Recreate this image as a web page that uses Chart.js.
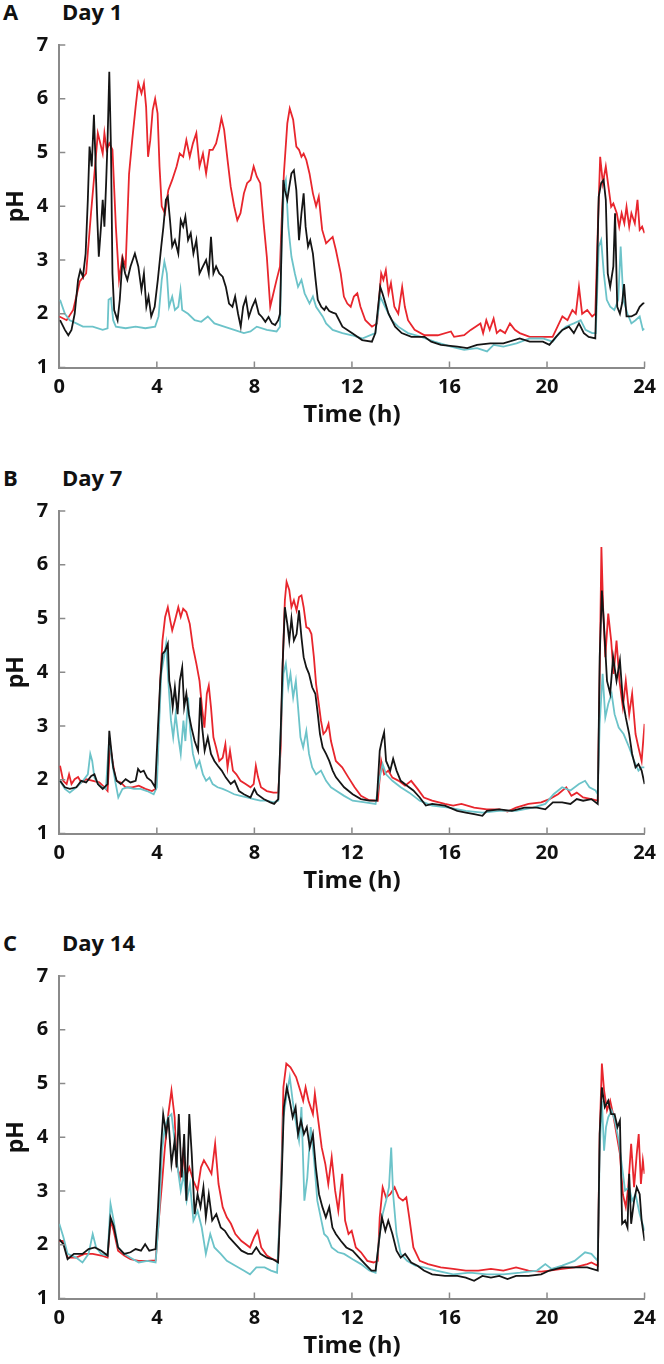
<!DOCTYPE html>
<html>
<head>
<meta charset="utf-8">
<script src="https://cdn.jsdelivr.net/npm/chart.js@4.4.1/dist/chart.umd.min.js"></script>
<style>
  body { margin: 0; background: #fff; width: 664px; height: 1364px; overflow: hidden; position: relative; font-family: 'Open Sans', sans-serif; }
  .panel { position: absolute; left: 0; width: 664px; height: 435px; }
  .panel canvas { position: absolute; left: 0; top: 0; }
  .tag { position: absolute; top: 0px; font-weight: 700; font-size: 22px; line-height: 22px; color: #111; }
</style>
</head>
<body>
<div class="panel" style="top:0px"><span class="tag" style="left:3px">A</span><span class="tag" style="left:62px">Day 1</span><canvas id="chartA" width="664" height="435"></canvas></div>
<div class="panel" style="top:466px"><span class="tag" style="left:3px">B</span><span class="tag" style="left:62px">Day 7</span><canvas id="chartB" width="664" height="435"></canvas></div>
<div class="panel" style="top:931px"><span class="tag" style="left:3px">C</span><span class="tag" style="left:62px">Day 14</span><canvas id="chartC" width="664" height="435"></canvas></div>

<script>
// ticks
const timeTicks = [0, 4, 8, 12, 16, 20, 24];
const phTicks = [1, 2, 3, 4, 5, 6, 7];

// Day 1  -- [time (h), pH]
const day1Red = [[0,1.95],[0.3,1.88],[0.57,2.07],[0.84,2.6],[1.1,2.75],[1.3,3.87],[1.44,4.6],[1.58,5.36],[1.65,5.23],[1.78,4.98],[1.85,5.36],[1.94,5.05],[2.05,5.17],[2.18,5.05],[2.32,3.62],[2.45,2.63],[2.59,3.06],[2.72,2.88],[2.86,4.6],[2.99,5.23],[3.13,5.85],[3.24,6.29],[3.37,6.1],[3.47,6.29],[3.56,5.85],[3.64,4.92],[3.73,5.23],[3.83,5.79],[3.93,6.0],[4.03,5.73],[4.11,4.74],[4.2,4.0],[4.33,3.87],[4.47,4.3],[4.63,4.49],[4.81,4.74],[4.94,4.98],[5.08,4.92],[5.21,5.23],[5.35,4.92],[5.48,5.17],[5.62,5.36],[5.75,4.74],[5.89,4.98],[6.02,4.61],[6.16,5.05],[6.29,5.05],[6.43,5.17],[6.56,5.42],[6.65,5.64],[6.76,5.42],[6.9,4.86],[7.03,4.36],[7.17,4.0],[7.3,3.74],[7.43,3.87],[7.57,4.24],[7.7,4.43],[7.84,4.49],[7.97,4.74],[8.1,4.55],[8.24,4.43],[8.38,3.68],[8.51,3.06],[8.65,2.13],[8.78,2.38],[8.91,2.63],[9.05,2.88],[9.12,3.74],[9.21,4.61],[9.35,5.54],[9.45,5.82],[9.59,5.61],[9.72,5.11],[9.83,5.05],[9.93,4.92],[10.02,4.98],[10.13,4.86],[10.26,4.61],[10.4,4.24],[10.53,4.0],[10.64,4.18],[10.78,3.56],[10.94,3.31],[11.07,3.37],[11.21,3.43],[11.34,3.19],[11.54,2.75],[11.67,2.32],[11.81,2.19],[11.95,2.13],[12.08,2.32],[12.22,2.38],[12.35,2.13],[12.55,1.88],[12.82,1.76],[13.03,1.82],[13.2,2.75],[13.29,2.63],[13.39,2.81],[13.5,2.38],[13.6,2.57],[13.74,2.13],[13.9,2.0],[14.06,2.5],[14.17,2.13],[14.3,1.88],[14.57,1.7],[14.98,1.6],[15.52,1.6],[16.06,1.67],[16.19,1.57],[16.6,1.6],[16.87,1.7],[17.07,1.76],[17.27,1.82],[17.38,1.64],[17.51,1.88],[17.65,1.7],[17.81,1.91],[17.94,1.64],[18.08,1.7],[18.28,1.64],[18.48,1.82],[18.68,1.7],[18.88,1.64],[19.29,1.57],[19.83,1.57],[20.23,1.57],[20.43,1.76],[20.63,1.95],[20.84,1.88],[21.04,2.07],[21.18,2.0],[21.31,2.5],[21.44,2.0],[21.65,2.07],[21.85,1.95],[21.98,2.0],[22.09,3.68],[22.18,4.92],[22.29,4.43],[22.41,4.74],[22.52,4.36],[22.63,3.99],[22.72,4.05],[22.86,3.87],[22.96,3.62],[23.06,3.87],[23.17,3.68],[23.26,3.99],[23.37,3.62],[23.46,3.87],[23.6,3.68],[23.71,4.12],[23.8,3.56],[23.9,3.62],[24,3.5]];
const day1Black = [[0.03,1.88],[0.23,1.7],[0.37,1.6],[0.5,1.7],[0.63,2.0],[0.77,2.63],[0.86,2.81],[0.97,2.69],[1.08,3.12],[1.17,4.12],[1.24,5.11],[1.33,4.74],[1.42,5.7],[1.48,4.92],[1.55,3.87],[1.62,3.06],[1.71,3.62],[1.78,4.12],[1.85,3.62],[1.92,4.43],[1.98,5.23],[2.05,6.5],[2.12,5.05],[2.18,2.75],[2.25,2.07],[2.39,1.88],[2.48,2.26],[2.59,3.0],[2.7,2.75],[2.79,2.63],[2.92,2.88],[3.1,3.12],[3.24,2.88],[3.37,2.44],[3.47,2.75],[3.57,2.13],[3.66,2.32],[3.77,1.95],[3.91,2.13],[4.04,2.63],[4.18,3.25],[4.27,3.62],[4.37,4.12],[4.45,4.18],[4.54,3.74],[4.63,3.25],[4.74,3.37],[4.88,3.12],[4.98,3.74],[5.08,3.62],[5.17,3.81],[5.28,3.37],[5.39,3.5],[5.5,3.12],[5.62,3.37],[5.75,2.75],[5.89,2.88],[6.02,3.0],[6.13,2.75],[6.22,3.43],[6.32,2.75],[6.43,2.88],[6.56,2.75],[6.7,2.69],[6.83,2.5],[6.96,2.19],[7.1,2.13],[7.21,2.32],[7.33,2.0],[7.44,1.76],[7.54,2.13],[7.65,2.29],[7.77,1.94],[7.91,2.13],[8.04,2.26],[8.18,2.0],[8.31,1.94],[8.45,1.85],[8.58,1.94],[8.72,1.82],[8.85,1.79],[8.98,1.88],[9.05,2.0],[9.12,3.37],[9.19,4.49],[9.25,4.3],[9.35,4.12],[9.43,4.36],[9.52,4.61],[9.62,4.67],[9.72,4.3],[9.83,3.37],[9.93,3.87],[10.02,4.24],[10.1,3.62],[10.2,3.25],[10.29,3.37],[10.4,3.12],[10.51,2.63],[10.6,2.26],[10.74,2.13],[10.87,2.07],[10.94,2.13],[11.07,2.05],[11.21,2.02],[11.34,2.0],[11.61,1.76],[12.0,1.64],[12.42,1.51],[12.82,1.48],[12.96,1.64],[13.16,2.5],[13.25,2.38],[13.5,2.0],[13.77,1.76],[14.04,1.64],[14.44,1.57],[14.98,1.57],[15.25,1.48],[15.65,1.42],[16.32,1.39],[16.73,1.36],[17.13,1.42],[17.67,1.45],[18.21,1.45],[18.88,1.54],[19.29,1.48],[19.83,1.48],[20.1,1.42],[20.37,1.57],[20.63,1.7],[20.9,1.76],[21.1,1.64],[21.31,1.82],[21.51,1.64],[21.71,1.57],[21.98,1.54],[22.05,2.75],[22.12,4.18],[22.22,4.43],[22.32,4.49],[22.41,4.12],[22.49,2.75],[22.59,2.5],[22.72,2.88],[22.79,3.87],[22.88,2.13],[22.99,2.0],[23.08,2.2],[23.16,2.55],[23.26,1.95],[23.46,1.95],[23.66,2.0],[23.8,2.13],[23.93,2.19],[24,2.2]];
const day1Cyan = [[0.03,2.26],[0.23,2.0],[0.43,1.88],[0.7,1.82],[0.97,1.76],[1.37,1.76],[1.78,1.7],[1.98,1.73],[2.02,2.26],[2.12,2.29],[2.21,1.88],[2.32,1.76],[2.72,1.73],[3.13,1.76],[3.53,1.73],[3.93,1.76],[4.07,1.95],[4.2,2.63],[4.31,2.97],[4.41,2.75],[4.5,2.13],[4.63,2.32],[4.74,2.07],[4.88,2.13],[4.97,2.44],[5.04,2.07],[5.28,2.0],[5.55,1.88],[5.82,1.85],[6.09,1.95],[6.36,1.82],[6.76,1.76],[7.17,1.7],[7.57,1.64],[7.84,1.67],[8.1,1.76],[8.51,1.7],[8.91,1.67],[9.05,1.76],[9.12,3.37],[9.21,4.36],[9.29,4.49],[9.39,3.62],[9.52,3.06],[9.66,2.75],[9.79,2.5],[9.93,2.63],[10.06,2.38],[10.26,2.19],[10.4,2.32],[10.53,2.13],[10.8,1.95],[10.94,1.82],[11.21,1.7],[11.61,1.64],[12.0,1.6],[12.42,1.54],[12.96,1.64],[13.16,2.32],[13.36,2.13],[13.63,1.88],[13.9,1.76],[14.3,1.64],[14.84,1.57],[15.38,1.48],[16.06,1.39],[16.6,1.33],[17.13,1.36],[17.54,1.3],[17.81,1.42],[18.21,1.39],[18.75,1.45],[19.29,1.54],[19.83,1.54],[20.23,1.48],[20.5,1.64],[20.77,1.76],[21.1,1.82],[21.38,1.88],[21.58,1.7],[21.85,1.64],[22.0,1.64],[22.12,3.25],[22.22,3.37],[22.33,2.75],[22.45,2.26],[22.59,2.13],[22.76,2.07],[22.92,2.26],[23.02,3.25],[23.13,2.26],[23.3,2.0],[23.46,1.82],[23.63,1.88],[23.8,1.95],[23.93,1.7],[24,1.72]];

// Day 7
const day7Red = [[0.03,2.26],[0.16,1.98],[0.3,1.92],[0.4,2.1],[0.5,1.92],[0.63,2.01],[0.77,2.05],[0.9,1.95],[1.1,2.01],[1.38,1.98],[1.64,1.95],[1.85,1.86],[1.98,1.79],[2.08,2.66],[2.18,2.35],[2.32,1.98],[2.52,1.95],[2.72,1.86],[2.99,1.86],[3.26,1.89],[3.53,1.83],[3.8,1.79],[3.96,1.83],[4.04,2.48],[4.14,3.84],[4.23,4.59],[4.34,5.03],[4.45,5.21],[4.55,4.96],[4.63,4.78],[4.74,4.96],[4.88,5.21],[4.98,5.03],[5.08,5.18],[5.21,5.12],[5.35,4.9],[5.48,4.47],[5.62,4.16],[5.75,3.84],[5.85,3.35],[5.95,2.97],[6.05,3.6],[6.13,3.75],[6.22,3.35],[6.32,2.79],[6.43,2.6],[6.56,2.35],[6.7,2.41],[6.81,2.66],[6.9,2.23],[7.0,2.54],[7.12,2.17],[7.26,2.1],[7.43,1.98],[7.64,1.92],[7.84,1.86],[7.97,1.92],[8.06,2.26],[8.15,2.05],[8.27,1.86],[8.51,1.79],[8.78,1.76],[8.98,1.76],[9.08,2.6],[9.16,4.16],[9.25,5.34],[9.32,5.68],[9.43,5.53],[9.52,5.21],[9.62,5.34],[9.73,5.15],[9.83,5.4],[9.93,5.43],[10.02,5.21],[10.13,4.84],[10.24,4.81],[10.34,4.71],[10.44,4.28],[10.53,3.78],[10.64,3.41],[10.73,3.1],[10.83,2.85],[10.94,2.91],[11.04,3.04],[11.14,2.72],[11.27,2.48],[11.34,2.35],[11.6,2.23],[11.86,2.04],[12.11,1.86],[12.37,1.7],[12.71,1.62],[13.06,1.61],[13.2,2.35],[13.32,2.1],[13.49,2.17],[13.66,2.04],[13.92,1.98],[14.18,1.89],[14.43,1.98],[14.69,1.83],[14.95,1.67],[15.29,1.61],[15.81,1.55],[16.15,1.52],[16.49,1.55],[17.01,1.48],[17.53,1.45],[18.04,1.45],[18.38,1.41],[18.73,1.48],[19.24,1.55],[19.76,1.58],[20.1,1.64],[20.45,1.73],[20.79,1.86],[21.0,1.7],[21.22,1.76],[21.48,1.67],[21.82,1.64],[22.08,1.61],[22.16,3.97],[22.23,6.33],[22.3,5.21],[22.39,4.28],[22.51,5.09],[22.63,4.59],[22.73,3.97],[22.85,4.59],[22.97,3.84],[23.11,3.35],[23.23,3.84],[23.37,3.22],[23.49,3.6],[23.63,2.85],[23.75,2.6],[23.88,2.35],[24,3.04]];
const day7Black = [[0.03,1.98],[0.23,1.86],[0.43,1.83],[0.7,1.86],[0.9,1.98],[1.1,1.95],[1.31,2.07],[1.44,2.1],[1.58,1.92],[1.78,1.83],[1.98,1.92],[2.05,2.91],[2.12,2.6],[2.21,2.23],[2.35,1.98],[2.52,1.92],[2.72,2.01],[2.92,1.95],[3.13,1.98],[3.23,2.2],[3.33,2.14],[3.46,2.17],[3.6,2.04],[3.77,1.98],[3.93,1.86],[4.04,2.91],[4.14,3.84],[4.23,4.34],[4.34,4.4],[4.45,4.53],[4.51,3.84],[4.58,3.66],[4.65,3.35],[4.74,3.72],[4.85,3.22],[4.94,3.84],[5.04,4.09],[5.12,3.35],[5.21,3.6],[5.31,3.22],[5.42,2.97],[5.55,2.72],[5.69,2.54],[5.78,3.53],[5.86,2.97],[5.96,2.54],[6.09,2.79],[6.22,2.48],[6.36,2.35],[6.5,2.26],[6.66,2.17],[6.83,2.04],[7.03,1.92],[7.19,1.98],[7.37,1.79],[7.57,1.73],[7.84,1.67],[8.0,1.83],[8.11,1.73],[8.38,1.64],[8.65,1.58],[8.81,1.55],[8.98,1.64],[9.08,2.91],[9.16,4.16],[9.25,5.21],[9.35,4.9],[9.43,4.59],[9.52,5.0],[9.62,4.59],[9.73,4.71],[9.83,5.15],[9.93,4.65],[10.02,4.28],[10.13,4.09],[10.24,3.97],[10.37,3.72],[10.5,3.6],[10.6,3.22],[10.69,2.85],[10.8,2.6],[10.94,2.48],[11.07,2.35],[11.21,2.17],[11.34,2.05],[11.68,1.86],[12.03,1.73],[12.37,1.64],[12.71,1.61],[13.02,1.61],[13.14,2.54],[13.23,2.73],[13.32,2.88],[13.4,2.35],[13.57,2.17],[13.69,2.39],[13.83,2.17],[14.0,1.98],[14.26,1.89],[14.52,1.8],[14.78,1.67],[15.03,1.52],[15.29,1.55],[15.81,1.52],[16.32,1.42],[16.67,1.39],[17.01,1.36],[17.35,1.33],[17.53,1.42],[18.04,1.45],[18.56,1.42],[19.07,1.48],[19.59,1.48],[19.93,1.45],[20.24,1.58],[20.62,1.58],[20.96,1.55],[21.22,1.64],[21.48,1.61],[21.82,1.64],[22.08,1.55],[22.16,4.28],[22.25,5.52],[22.34,4.84],[22.46,3.84],[22.59,3.6],[22.71,4.28],[22.85,3.84],[22.99,4.22],[23.11,3.47],[23.23,3.16],[23.37,2.85],[23.49,2.48],[23.63,2.23],[23.75,2.29],[23.88,2.17],[24,1.92]];
const day7Cyan = [[0.03,1.98],[0.23,1.83],[0.43,1.76],[0.7,1.86],[0.97,1.98],[1.17,2.1],[1.27,2.48],[1.35,2.35],[1.44,2.04],[1.64,1.89],[1.91,1.83],[2.05,2.79],[2.16,2.35],[2.29,1.98],[2.42,1.67],[2.59,1.83],[2.79,1.86],[3.06,1.83],[3.33,1.83],[3.6,1.79],[3.87,1.73],[4.0,1.86],[4.1,3.1],[4.18,3.97],[4.27,4.22],[4.38,4.53],[4.47,3.84],[4.58,3.1],[4.67,2.79],[4.77,3.22],[4.88,2.79],[4.98,2.48],[5.09,3.1],[5.17,2.72],[5.28,3.53],[5.37,2.91],[5.48,2.48],[5.62,2.23],[5.75,2.35],[5.89,2.1],[6.02,1.98],[6.16,2.04],[6.29,1.92],[6.49,1.86],[6.7,1.83],[6.9,1.79],[7.17,1.73],[7.43,1.7],[7.7,1.67],[7.97,1.64],[8.24,1.61],[8.51,1.61],[8.78,1.58],[8.98,1.61],[9.08,2.91],[9.19,3.97],[9.29,4.16],[9.39,3.72],[9.48,3.97],[9.59,3.53],[9.7,3.84],[9.79,3.35],[9.89,2.79],[10.0,2.6],[10.13,2.91],[10.24,2.48],[10.37,2.23],[10.53,2.1],[10.73,2.17],[10.94,1.98],[11.14,1.86],[11.34,1.8],[11.68,1.7],[12.03,1.61],[12.54,1.58],[12.97,1.55],[13.14,2.04],[13.26,2.29],[13.4,2.1],[13.66,1.98],[14.0,1.86],[14.35,1.76],[14.78,1.61],[15.29,1.52],[15.98,1.48],[16.67,1.42],[17.35,1.39],[18.04,1.42],[18.73,1.42],[19.42,1.48],[19.93,1.55],[20.27,1.73],[20.62,1.86],[20.96,1.8],[21.31,1.92],[21.56,1.98],[21.74,1.86],[21.99,1.8],[22.08,1.73],[22.16,3.04],[22.28,3.97],[22.39,3.16],[22.51,3.41],[22.65,3.6],[22.77,3.22],[22.94,2.97],[23.14,2.85],[23.37,2.6],[23.57,2.35],[23.75,2.17],[23.88,2.23],[24,2.23]];

// Day 14
const day14Red = [[0,2.07],[0.17,2.07],[0.34,1.76],[0.69,1.76],[1.03,1.83],[1.37,1.83],[1.72,1.8],[1.98,1.76],[2.1,2.45],[2.23,2.26],[2.41,1.89],[2.66,1.8],[2.92,1.73],[3.26,1.7],[3.61,1.7],[3.95,1.71],[4.09,2.51],[4.21,3.13],[4.33,3.81],[4.47,4.43],[4.6,4.87],[4.73,4.37],[4.81,3.5],[4.95,3.25],[5.07,3.69],[5.19,3.25],[5.33,3.44],[5.5,3.19],[5.67,3.01],[5.81,3.44],[5.93,3.57],[6.1,3.44],[6.24,3.32],[6.39,3.88],[6.53,3.13],[6.7,2.7],[6.87,2.51],[7.04,2.39],[7.22,2.2],[7.47,2.07],[7.65,2.01],[7.82,1.95],[7.99,2.14],[8.13,2.26],[8.28,1.95],[8.51,1.8],[8.76,1.73],[8.97,1.7],[9.11,3.44],[9.19,4.93],[9.31,5.37],[9.48,5.3],[9.71,5.12],[9.88,4.87],[10.0,4.68],[10.1,4.93],[10.22,4.68],[10.4,4.43],[10.48,4.81],[10.62,4.31],[10.76,3.81],[10.91,3.5],[11.03,3.13],[11.17,3.63],[11.31,3.01],[11.44,2.63],[11.6,3.32],[11.72,2.45],[11.86,2.2],[11.99,2.26],[12.16,1.95],[12.37,1.86],[12.63,1.7],[12.89,1.67],[13.06,1.7],[13.14,2.51],[13.26,3.07],[13.4,2.88],[13.57,2.94],[13.75,3.07],[13.92,2.88],[14.09,2.82],[14.23,2.88],[14.35,2.51],[14.52,1.95],[14.78,1.7],[15.12,1.64],[15.64,1.58],[16.15,1.55],[16.67,1.52],[17.18,1.52],[17.7,1.55],[18.21,1.52],[18.73,1.58],[19.24,1.52],[19.76,1.5],[20.1,1.52],[20.62,1.55],[21.13,1.58],[21.65,1.64],[21.82,1.67],[22.08,1.61],[22.16,4.06],[22.25,5.37],[22.34,4.87],[22.46,4.5],[22.59,4.68],[22.71,4.43],[22.85,4.06],[22.99,3.69],[23.11,2.94],[23.23,2.7],[23.33,3.07],[23.45,3.88],[23.57,3.07],[23.68,3.69],[23.76,4.06],[23.85,3.13],[23.93,3.57],[24,3.32]];
const day14Black = [[0,2.1],[0.17,2.01],[0.34,1.73],[0.6,1.83],[0.95,1.83],[1.2,1.92],[1.46,1.95],[1.72,1.89],[1.98,1.8],[2.1,2.51],[2.23,2.35],[2.41,1.95],[2.66,1.83],[2.92,1.86],[3.13,1.92],[3.35,1.89],[3.52,2.01],[3.69,1.89],[3.95,1.92],[4.05,2.7],[4.16,3.75],[4.26,4.43],[4.38,4.06],[4.47,4.37],[4.6,3.5],[4.73,3.94],[4.81,3.44],[4.9,4.43],[5.02,3.25],[5.12,4.06],[5.21,2.82],[5.33,4.43],[5.43,3.69],[5.55,2.57],[5.67,2.94],[5.79,2.7],[5.91,3.07],[6.01,2.51],[6.13,2.94],[6.27,2.45],[6.44,2.57],[6.62,2.32],[6.79,2.26],[6.96,2.14],[7.22,2.01],[7.47,1.89],[7.73,1.83],[7.9,1.83],[8.08,1.95],[8.25,1.83],[8.51,1.76],[8.76,1.73],[8.97,1.67],[9.11,3.13],[9.21,4.56],[9.33,4.93],[9.45,4.68],[9.57,4.37],[9.69,4.56],[9.79,4.06],[9.91,4.31],[10.03,4.06],[10.15,4.19],[10.27,3.81],[10.4,4.06],[10.52,3.44],[10.65,2.94],[10.79,2.7],[10.93,2.51],[11.07,2.7],[11.2,2.32],[11.34,2.2],[11.55,2.07],[11.77,1.95],[12.03,1.89],[12.29,1.76],[12.54,1.64],[12.8,1.52],[12.97,1.52],[13.11,2.07],[13.23,2.51],[13.37,2.26],[13.49,2.45],[13.66,2.2],[13.83,1.89],[14.0,1.76],[14.18,1.83],[14.43,1.67],[14.69,1.61],[14.95,1.52],[15.29,1.45],[15.81,1.42],[16.32,1.42],[16.67,1.39],[17.01,1.33],[17.35,1.42],[17.7,1.39],[18.04,1.42],[18.38,1.36],[18.73,1.42],[19.24,1.42],[19.76,1.45],[20.1,1.52],[20.62,1.58],[21.13,1.58],[21.65,1.58],[22.08,1.52],[22.16,4.06],[22.25,4.93],[22.37,4.56],[22.51,4.68],[22.63,4.43],[22.77,4.43],[22.89,4.19],[22.99,4.31],[23.08,2.39],[23.2,2.45],[23.3,2.32],[23.37,3.32],[23.45,2.39],[23.57,2.82],[23.68,3.07],[23.8,2.94],[23.88,2.45],[24,2.07]];
const day14Cyan = [[0,2.39],[0.17,2.14],[0.34,1.83],[0.69,1.76],[0.95,1.67],[1.2,1.83],[1.37,2.2],[1.51,1.95],[1.72,1.83],[1.98,1.8],[2.1,2.76],[2.23,2.45],[2.41,1.95],[2.66,1.83],[2.92,1.76],[3.26,1.67],[3.61,1.7],[3.95,1.67],[4.09,2.51],[4.21,3.75],[4.33,4.19],[4.47,4.37],[4.6,4.43],[4.73,3.94],[4.85,3.44],[4.98,3.01],[5.1,3.32],[5.22,2.82],[5.36,3.13],[5.5,2.45],[5.67,2.63],[5.84,2.32],[6.01,1.83],[6.19,2.2],[6.36,1.95],[6.62,1.83],[6.87,1.7],[7.22,1.61],[7.56,1.52],[7.82,1.45],[8.08,1.58],[8.42,1.58],[8.68,1.52],[8.93,1.48],[9.07,2.82],[9.19,4.37],[9.33,4.81],[9.45,5.12],[9.57,4.68],[9.69,4.31],[9.83,3.94],[9.93,4.56],[10.05,2.82],[10.17,3.25],[10.31,4.19],[10.45,3.57],[10.58,2.82],[10.72,2.51],[10.86,2.2],[11.0,2.14],[11.17,1.95],[11.43,1.86],[11.68,1.83],[12.03,1.73],[12.37,1.64],[12.71,1.52],[12.97,1.48],[13.14,2.2],[13.26,2.57],[13.4,2.82],[13.52,3.07],[13.61,3.81],[13.69,2.94],[13.83,2.2],[14.0,1.83],[14.26,1.7],[14.6,1.61],[14.95,1.58],[15.46,1.52],[16.15,1.45],[16.84,1.48],[17.53,1.45],[18.21,1.45],[18.9,1.48],[19.59,1.52],[19.93,1.64],[20.19,1.55],[20.62,1.61],[21.13,1.7],[21.56,1.86],[21.82,1.83],[22.08,1.7],[22.16,3.75],[22.25,4.68],[22.34,3.75],[22.42,4.19],[22.51,4.37],[22.65,4.5],[22.78,4.31],[22.94,3.94],[23.08,3.44],[23.2,3.01],[23.37,3.07],[23.49,2.82],[23.63,2.94],[23.8,2.57],[24,2.26]];

const red = '#e8262d';
const black = '#151515';
const cyan = '#6cc3c9';
const axisGrey = '#8a8a8a';
const inkColor = '#111';

Chart.defaults.font.family = "'Open Sans', sans-serif";

// small ticks pointing into the plot
const innerTicks = {
  id: 'innerTicks',
  afterDraw(chart) {
    const { ctx, chartArea, scales } = chart;
    ctx.save();
    ctx.strokeStyle = axisGrey;
    ctx.lineWidth = 1.5;
    ctx.beginPath();
    timeTicks.forEach(t => {
      const px = scales.x.getPixelForValue(t);
      ctx.moveTo(px, chartArea.bottom);
      ctx.lineTo(px, chartArea.bottom - 6);
    });
    phTicks.forEach(v => {
      const py = scales.y.getPixelForValue(v);
      ctx.moveTo(chartArea.left, py);
      ctx.lineTo(chartArea.left + 6, py);
    });
    ctx.stroke();
    ctx.restore();
  }
};

const toPoints = arr => arr.map(p => ({ x: p[0], y: p[1] }));

function line(arr, color) {
  return {
    data: toPoints(arr),
    borderColor: color,
    borderWidth: 1.8,
    pointRadius: 0,
    tension: 0,
    fill: false
  };
}

function makePanel(id, r, b, c) {
  new Chart(document.getElementById(id), {
    type: 'line',
    // black first so it is drawn on top
    data: { datasets: [line(b, black), line(c, cyan), line(r, red)] },
    options: {
      responsive: false,
      animation: false,
      layout: { padding: { top: 45, right: 11, bottom: 5, left: 0 } },
      plugins: { legend: { display: false }, tooltip: { enabled: false } },
      scales: {
        x: {
          type: 'linear',
          min: timeTicks[0],
          max: timeTicks[timeTicks.length - 1],
          afterFit(s) { s.height = 62.5; },
          afterBuildTicks(s) { s.ticks = timeTicks.map(v => ({ value: v })); },
          ticks: { padding: 8, color: inkColor, maxRotation: 0, autoSkip: false, font: { size: 20, weight: 'bold' } },
          grid: { display: false, drawTicks: false },
          border: { color: axisGrey, width: 2 },
          title: { display: true, text: 'Time (h)', color: inkColor, padding: 0, font: { size: 24, weight: 'bold' } }
        },
        y: {
          min: phTicks[0],
          max: phTicks[phTicks.length - 1],
          afterFit(s) { s.width = 59.3; },
          afterBuildTicks(s) { s.ticks = phTicks.map(v => ({ value: v })); },
          ticks: { padding: 11, color: inkColor, font: { size: 20, weight: 'bold' } },
          grid: { display: false, drawTicks: false },
          border: { color: axisGrey, width: 2 },
          title: { display: true, text: 'pH', color: inkColor, padding: { top: 3, bottom: 0 }, font: { size: 23, weight: 'bold' } }
        }
      }
    },
    plugins: [innerTicks]
  });
}

makePanel('chartA', day1Red, day1Black, day1Cyan);
makePanel('chartB', day7Red, day7Black, day7Cyan);
makePanel('chartC', day14Red, day14Black, day14Cyan);
</script>
</body>
</html>
